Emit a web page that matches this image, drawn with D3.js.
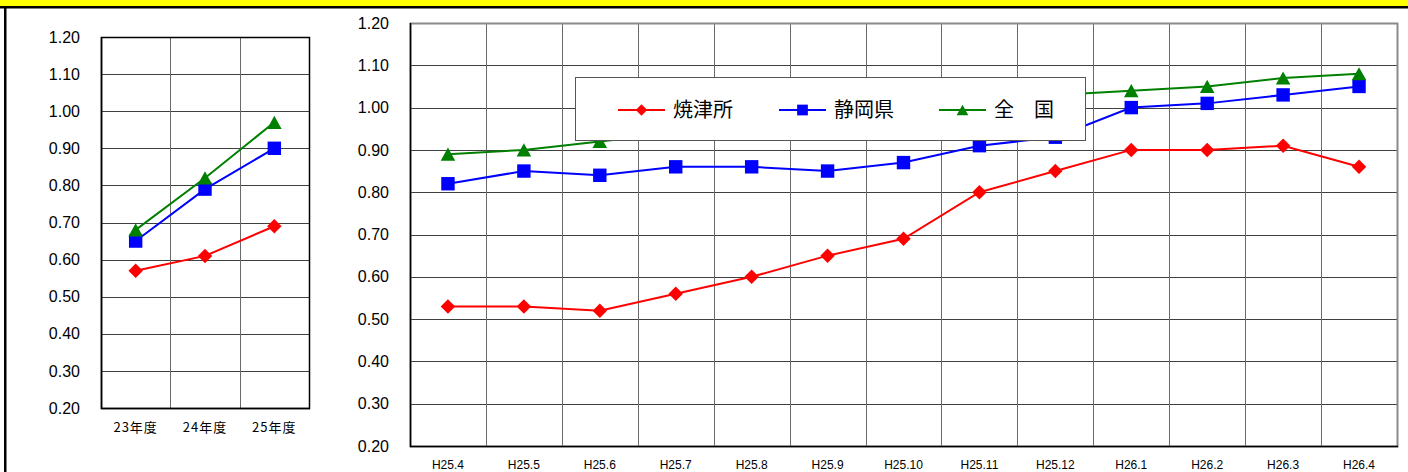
<!DOCTYPE html>
<html>
<head>
<meta charset="utf-8">
<script src="https://cdn.jsdelivr.net/npm/d3@7"></script>
<style>
  body { margin: 0; background: #fff; }
  svg { display: block; }
  text { font-family: "Liberation Sans", Arial, sans-serif; fill: #000; }
  .jp { font-family: "Noto Sans CJK JP", sans-serif; }
</style>
</head>
<body>
<div id="chart"></div>
<script>
// yearly (left chart)
var years = ["23年度", "24年度", "25年度"];
var yearYaizu = [0.57, 0.61, 0.69];
var yearShizuoka = [0.65, 0.79, 0.90];
var yearNation = [0.68, 0.82, 0.97];

// monthly (right chart)
var months = ["H25.4", "H25.5", "H25.6", "H25.7", "H25.8", "H25.9", "H25.10",
              "H25.11", "H25.12", "H26.1", "H26.2", "H26.3", "H26.4"];
var monthYaizu = [0.53, 0.53, 0.52, 0.56, 0.60, 0.65, 0.69, 0.80, 0.85, 0.90, 0.90, 0.91, 0.86];
var monthShizuoka = [0.82, 0.85, 0.84, 0.86, 0.86, 0.85, 0.87, 0.91, 0.93, 1.00, 1.01, 1.03, 1.05];
var monthNation = [0.89, 0.90, 0.92, 0.94, 0.95, 0.95, 0.98, 1.00, 1.03, 1.04, 1.05, 1.07, 1.08];

var yTicks = [0.2, 0.3, 0.4, 0.5, 0.6, 0.7, 0.8, 0.9, 1.0, 1.1, 1.2];
var seriesNames = ["焼津所", "静岡県", "全\u3000国"];
var seriesColors = ["#ff0000", "#0000ff", "#008000"];

var W = 1408, H = 472;
var svg = d3.select('#chart').append('svg')
  .attr('width', W)
  .attr('height', H);

// frame: yellow band and black border
svg.append('rect').attr('x', 0).attr('y', 0).attr('width', W).attr('height', 6).attr('fill', '#ffff00');
svg.append('rect').attr('x', 0).attr('y', 6).attr('width', W).attr('height', 2.5).attr('fill', '#000');
svg.append('rect').attr('x', 4).attr('y', 6).attr('width', 2.5).attr('height', H).attr('fill', '#000');

// triangle with its box centred on the point
var triangle = {
  draw: function(ctx, size) {
    var w = Math.sqrt(size) * 0.55, h = Math.sqrt(size) * 0.5;
    ctx.moveTo(0, -h);
    ctx.lineTo(w, h);
    ctx.lineTo(-w, h);
    ctx.closePath();
  }
};

function marker(i, scale) {
  var s = scale || 1;
  if (i === 0) return { path: d3.symbol(d3.symbolSquare, 105 * s * s)(), rot: 45 };
  if (i === 1) return { path: d3.symbol(d3.symbolSquare, 180 * s * s)(), rot: 0 };
  return { path: d3.symbol(triangle, 175 * s * s)(), rot: 0 };
}

function drawChart(opt) {
  var g = svg.append('g');
  var x = d3.scaleBand().domain(opt.cats).range([opt.left, opt.right]).paddingInner(0).paddingOuter(0);
  var y = d3.scaleLinear().domain([0.2, 1.2]).range([opt.bottom, opt.top]);
  var cx = function(c) { return x(c) + x.bandwidth() / 2; };

  // horizontal grid
  g.append('g').selectAll('line')
    .data(yTicks.slice(1, -1))
    .enter().append('line')
      .attr('x1', opt.left).attr('x2', opt.right)
      .attr('y1', function(d) { return Math.round(y(d)) + 0.5; })
      .attr('y2', function(d) { return Math.round(y(d)) + 0.5; })
      .attr('stroke', '#404040').attr('stroke-width', 1);

  // vertical grid
  g.append('g').selectAll('line')
    .data(opt.cats.slice(1))
    .enter().append('line')
      .attr('x1', function(d) { return Math.round(x(d)) + 0.5; })
      .attr('x2', function(d) { return Math.round(x(d)) + 0.5; })
      .attr('y1', opt.top).attr('y2', opt.bottom)
      .attr('stroke', '#6a6a6a').attr('stroke-width', 1);

  // plot border
  g.append('rect')
    .attr('x', opt.left + 0.5).attr('y', opt.top + 0.5)
    .attr('width', opt.right - opt.left).attr('height', opt.bottom - opt.top)
    .attr('fill', 'none').attr('stroke', opt.borderColor).attr('stroke-width', opt.borderWidth);
  // left and bottom axis lines in black
  g.append('line').attr('x1', opt.left + 0.5).attr('x2', opt.left + 0.5)
    .attr('y1', opt.top).attr('y2', opt.bottom + 1).attr('stroke', '#000').attr('stroke-width', 1.5);
  g.append('line').attr('x1', opt.left).attr('x2', opt.right + 1)
    .attr('y1', opt.bottom + 0.5).attr('y2', opt.bottom + 0.5).attr('stroke', '#000').attr('stroke-width', 1.5);

  // y tick labels
  g.append('g').selectAll('text')
    .data(yTicks)
    .enter().append('text')
      .attr('x', opt.left - 21)
      .attr('y', function(d) { return y(d); })
      .attr('dy', '0.35em')
      .attr('text-anchor', 'end')
      .style('font-size', '16px')
      .text(function(d) { return d3.format('.2f')(d); });

  // x labels
  g.append('g').selectAll('text')
    .data(opt.cats)
    .enter().append('text')
      .attr('class', opt.xClass)
      .attr('x', function(d) { return cx(d); })
      .attr('y', opt.xLabelY)
      .attr('text-anchor', 'middle')
      .style('font-size', opt.xFont)
      .style('letter-spacing', opt.xSpacing)
      .text(function(d) { return d; });

  // series
  opt.series.forEach(function(vals, i) {
    var line = d3.line()
      .x(function(d, j) { return cx(opt.cats[j]); })
      .y(function(d) { return y(d); });
    g.append('path')
      .datum(vals)
      .attr('d', line)
      .attr('fill', 'none')
      .attr('stroke', seriesColors[i])
      .attr('stroke-width', 2);
    var m = marker(i);
    g.append('g').selectAll('path')
      .data(vals)
      .enter().append('path')
        .attr('d', m.path)
        .attr('transform', function(d, j) {
          return 'translate(' + cx(opt.cats[j]) + ',' + y(d) + ') rotate(' + m.rot + ')';
        })
        .attr('fill', seriesColors[i]);
  });
  return g;
}

drawChart({
  cats: years, series: [yearYaizu, yearShizuoka, yearNation],
  left: 101, right: 309, top: 37, bottom: 408,
  borderColor: '#000', borderWidth: 1.5,
  xLabelY: 432, xFont: '13px', xSpacing: '1px', xClass: 'jp'
});

drawChart({
  cats: months, series: [monthYaizu, monthShizuoka, monthNation],
  left: 410, right: 1397, top: 23, bottom: 446,
  borderColor: '#8a8a8a', borderWidth: 2,
  xLabelY: 469, xFont: '12px', xSpacing: '0px', xClass: ''
});

// legend
var legend = svg.append('g');
legend.append('rect')
  .attr('x', 575.5).attr('y', 77.5).attr('width', 510).attr('height', 63)
  .attr('fill', '#fff').attr('stroke', '#555').attr('stroke-width', 1);
var legendX = [618, 779, 939];
seriesNames.forEach(function(name, i) {
  var lg = legend.append('g').attr('transform', 'translate(' + legendX[i] + ',110)');
  lg.append('line').attr('x1', 0).attr('x2', 47).attr('y1', 0).attr('y2', 0)
    .attr('stroke', seriesColors[i]).attr('stroke-width', 2);
  var m = marker(i, 0.8);
  lg.append('path').attr('d', m.path)
    .attr('transform', 'translate(23.5,0) rotate(' + m.rot + ')')
    .attr('fill', seriesColors[i]);
  lg.append('text')
    .attr('class', 'jp')
    .attr('x', 55).attr('y', 0).attr('dy', '0.36em')
    .style('font-size', '20px')
    .text(name);
});
</script>
</body>
</html>
